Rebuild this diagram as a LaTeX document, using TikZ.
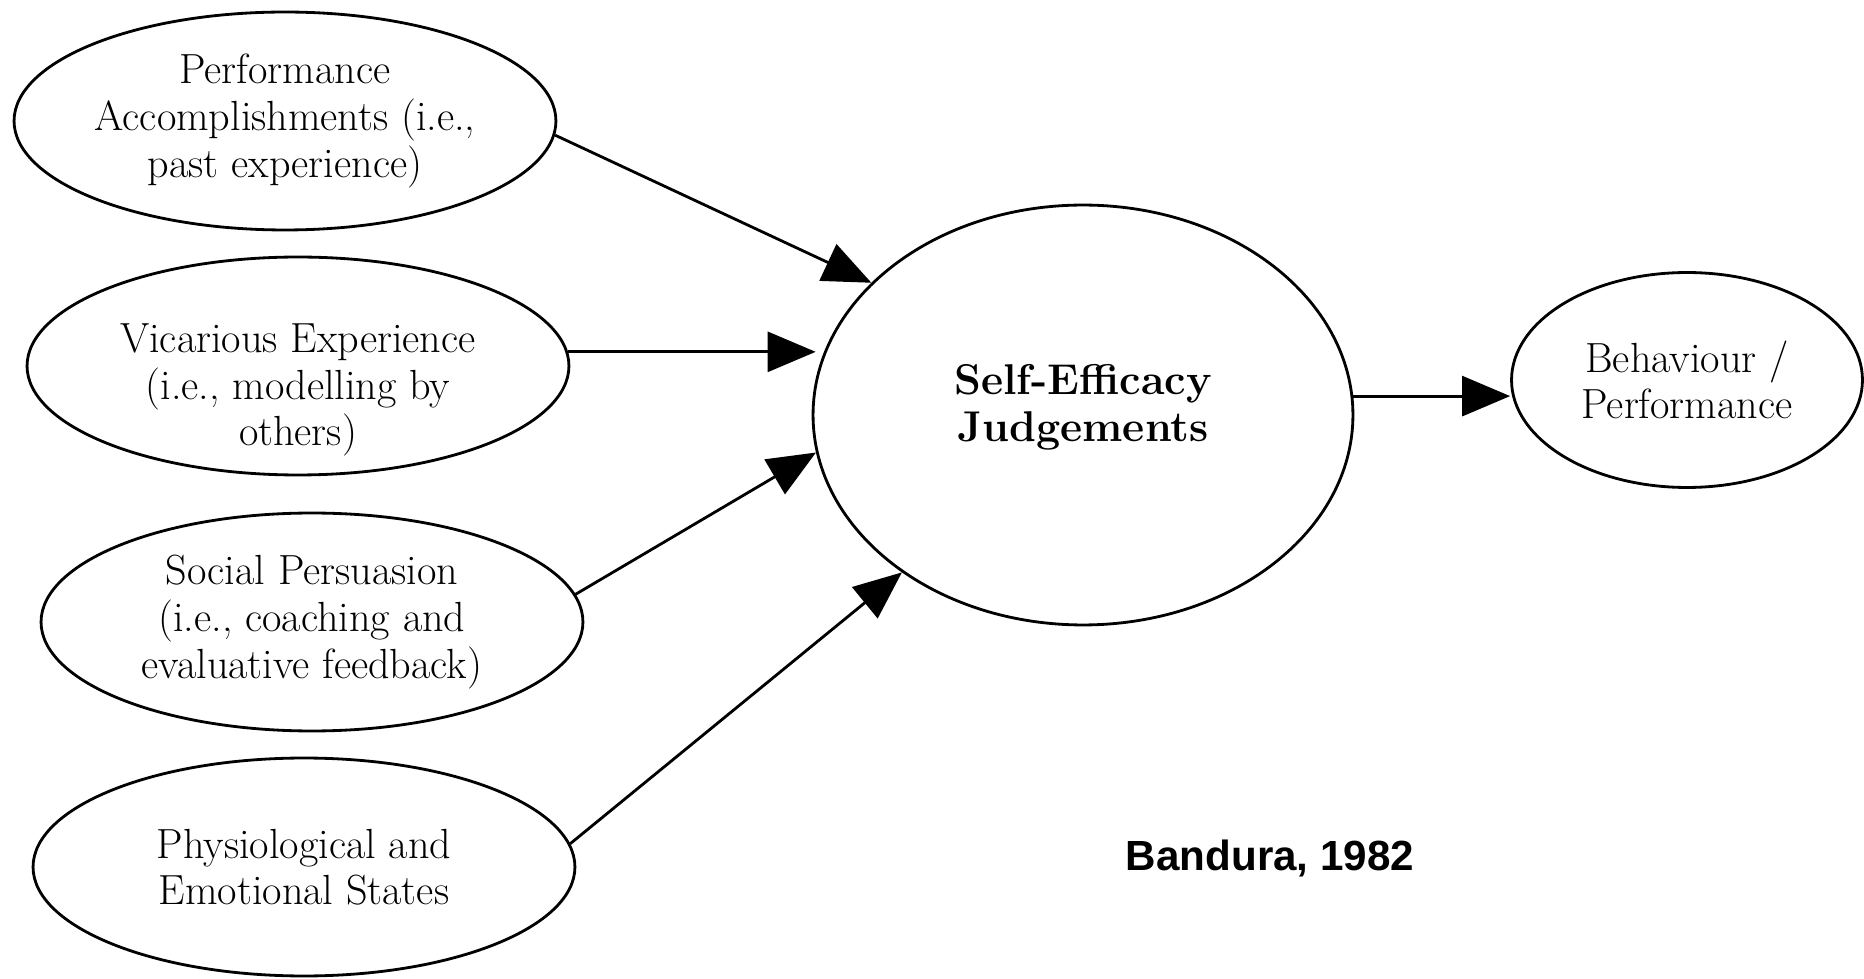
\documentclass[tikz,border=0pt]{standalone}
\usepackage{fontspec}
\newfontfamily\citefont{Liberation Sans}
\usetikzlibrary{shapes.geometric,arrows.meta}
\begin{document}
\begin{tikzpicture}[x=0.02cm,y=-0.02cm,
  every node/.style={inner sep=0pt},
  ftext/.style={align=center,font=\fontsize{24}{26.5}\selectfont},
  factor/.style={ellipse,draw,line width=1.6pt,
    minimum width=10.84cm,minimum height=4.36cm,ftext},
  link/.style={line width=1.6pt,-{Triangle[length=0.96cm,width=0.8cm]}},
]
\useasboundingbox (0,0) rectangle (1864,979);

% sources of efficacy information
\node[factor] (perf) at (285,121) {Performance\\Accomplishments (i.e.,\\past experience)};
\node[factor] (vic)  at (298,366) {};
\node[ftext]  (victext) at (298,390) {Vicarious Experience\\(i.e., modelling by\\others)};
\node[factor] (soc)  at (312,622) {Social Persuasion\\(i.e., coaching and\\evaluative feedback)};
\node[factor] (phys) at (304,867) {Physiological and\\Emotional States};

% central construct and outcome
\node[factor,minimum width=10.8cm,minimum height=8.4cm] (se) at (1083,415) {};
\node[ftext,font=\fontsize{24.5}{26.5}\selectfont\bfseries] (setext) at (1083,407) {Self-Efficacy\\Judgements};
\node[factor,minimum width=7.02cm,minimum height=4.3cm] (beh) at (1687,380) {Behaviour /\\Performance};

\node[font=\citefont\bfseries\fontsize{24}{28}\selectfont] (cite) at (1270,858) {Bandura, 1982};

% influences
\draw[link] (perf.-3.2) -- (se.148.5);
\draw[link,shorten >=-0.08cm] (vic.3.2) -- (vic.3.2 -| se.west);
\draw[link] (soc.6.7) -- (se.-172.3);
\draw[link] (phys.5.7) -- (se.-139.7);
\draw[link] (se.4.7) -- (se.4.7 -| beh.west);
\end{tikzpicture}
\end{document}
